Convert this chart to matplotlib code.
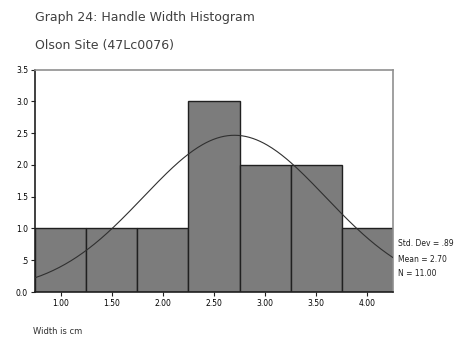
import matplotlib
matplotlib.use("Agg")
import matplotlib.pyplot as plt
import numpy as np

# bin centres (cm) and counts
bin_centers = [1.0, 1.5, 2.0, 2.5, 3.0, 3.5, 4.0]
counts = [1, 1, 1, 3, 2, 2, 1]
tick_labels = ["1.00", "1.50", "2.00", "2.50", "3.00", "3.50", "4.00"]
y_ticks = [0.0, 0.5, 1.0, 1.5, 2.0, 2.5, 3.0, 3.5]
y_tick_labels = ["0.0", ".5", "1.0", "1.5", "2.0", "2.5", "3.0", "3.5"]
std_dev = 0.89
mean = 2.70
n = 11.00
bin_width = 0.5

fig = plt.figure(figsize=(4.63, 3.39), dpi=100)
ax = fig.add_axes([35/463, 1-292/339, (393-35)/463, (292-69.5)/339])

ax.bar(bin_centers, counts, width=bin_width, color="#7c7c7c",
       edgecolor="#202020", linewidth=1.0, zorder=2)

# fitted normal curve
xs = np.linspace(0.75, 4.25, 300)
ys = n * bin_width / (std_dev * np.sqrt(2*np.pi)) * np.exp(-0.5*((xs-mean)/std_dev)**2)
ax.plot(xs, ys, color="#303030", linewidth=0.8, zorder=3)

ax.set_xlim(0.75, 4.25)
ax.set_ylim(0, 3.5)
ax.set_xticks(bin_centers)
ax.set_xticklabels(tick_labels, fontsize=5.5)
ax.set_yticks(y_ticks)
ax.set_yticklabels(y_tick_labels, fontsize=5.5)
ax.tick_params(length=3, width=0.8, pad=2, color="#202020")

for side in ["left", "bottom"]:
    ax.spines[side].set_color("#202020")
    ax.spines[side].set_linewidth(1.2)
for side in ["top", "right"]:
    ax.spines[side].set_color("#909090")
    ax.spines[side].set_linewidth(1.2)

fig.text(35/463, 1-17/339, "Graph 24: Handle Width Histogram", fontsize=9,
         va="center", ha="left", color="#404040")
fig.text(35/463, 1-45/339, "Olson Site (47Lc0076)", fontsize=9,
         va="center", ha="left", color="#404040")
fig.text(33/463, 1-332/339, "Width is cm", fontsize=6,
         va="center", ha="left", color="#303030")

stats = ["Std. Dev = %.2f" % std_dev, "Mean = %.2f" % mean, "N = %.2f" % n]
stats[0] = stats[0].replace("0.", ".")
for i, s in enumerate(stats):
    fig.text(398/463, 1-(244+15*i)/339, s, fontsize=5.5, va="center",
             ha="left", color="#202020")

fig.savefig("out.png", dpi=100)
